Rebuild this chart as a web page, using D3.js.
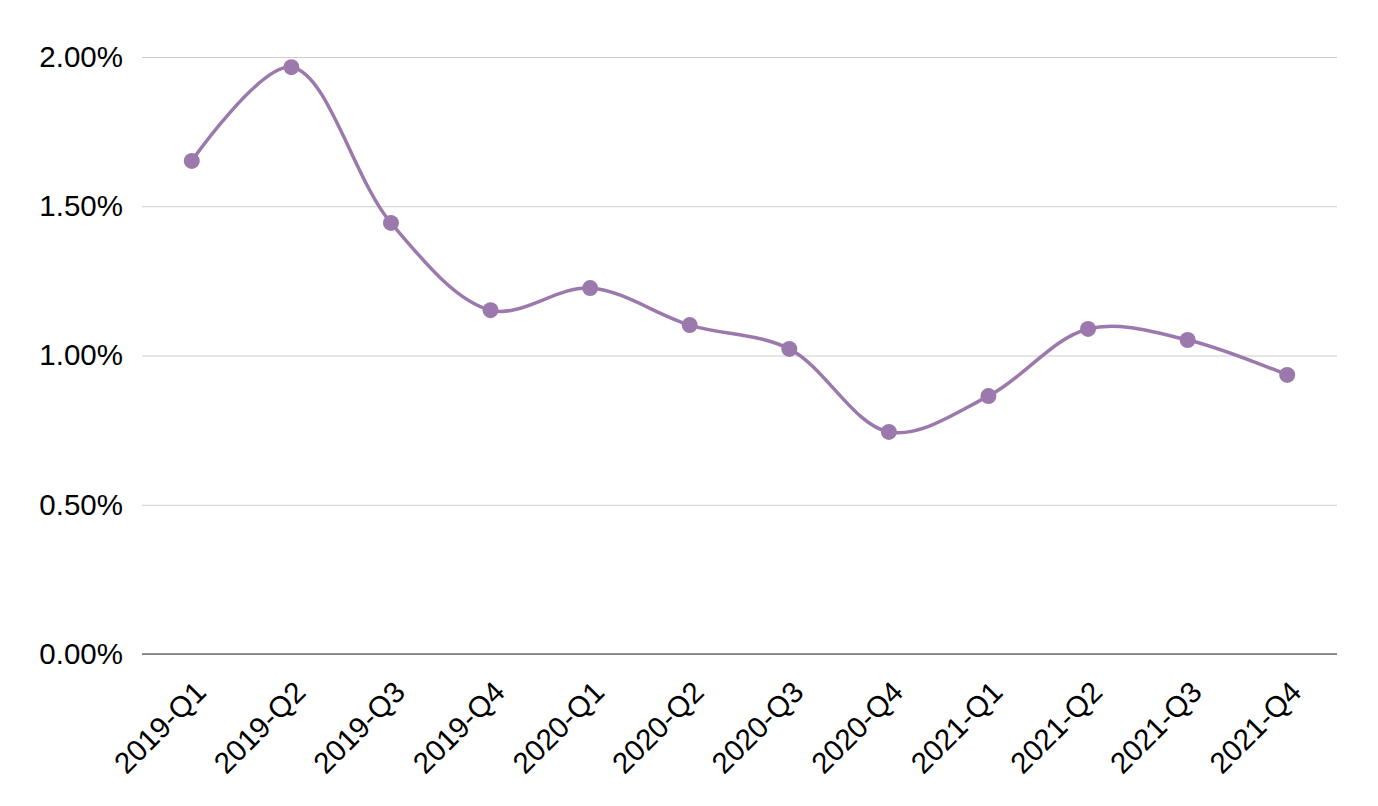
<!DOCTYPE html>
<html>
<head>
<meta charset="utf-8">
<script src="https://cdn.jsdelivr.net/npm/d3@7"></script>
<style>
  body { margin: 0; background: #fff; }
  svg text { font-family: "Liberation Sans", Arial, sans-serif; fill: #000; }
</style>
</head>
<body>
<svg id="chart" width="1378" height="806"></svg>
<script>
// quarters and rate values (percent)
const quarters = ["2019-Q1", "2019-Q2", "2019-Q3", "2019-Q4", "2020-Q1", "2020-Q2",
                  "2020-Q3", "2020-Q4", "2021-Q1", "2021-Q2", "2021-Q3", "2021-Q4"];
const rates = [1.652, 1.966, 1.444, 1.152, 1.226, 1.102, 1.022, 0.744, 0.864, 1.089, 1.052, 0.935];
const yTicks = [0, 0.5, 1.0, 1.5, 2.0];

const width = 1378, height = 806;
const margin = { top: 57, right: 41, bottom: 152, left: 142 };
const svg = d3.select("#chart");
const color = "#9b79ac";

const x = d3.scaleBand()
    .domain(quarters)
    .range([margin.left, width - margin.right]);

const y = d3.scaleLinear()
    .domain([0, 2])
    .range([height - margin.bottom, margin.top]);

// gridlines + y labels
const yAxis = svg.append("g")
    .attr("transform", `translate(${margin.left},0)`)
    .call(d3.axisLeft(y)
        .tickValues(yTicks)
        .tickSize(-(width - margin.left - margin.right))
        .tickPadding(19)
        .tickFormat(d => d.toFixed(2) + "%"));
yAxis.select(".domain").remove();
yAxis.selectAll(".tick line").attr("stroke", "#cccccc").attr("stroke-width", 1);
yAxis.selectAll(".tick text").attr("font-size", 29.5);

// baseline
svg.append("line")
    .attr("x1", margin.left)
    .attr("x2", width - margin.right)
    .attr("y1", y(0))
    .attr("y2", y(0))
    .attr("stroke", "#333")
    .attr("stroke-width", 1);

// x labels, rotated
const xAxis = svg.append("g")
    .attr("transform", `translate(0,${y(0)})`)
    .call(d3.axisBottom(x).tickSize(0).tickPadding(0));
xAxis.select(".domain").remove();
xAxis.selectAll(".tick text")
    .attr("font-size", 29.5)
    .attr("text-anchor", "end")
    .attr("dy", 0)
    .attr("transform", "translate(16,40) rotate(-45)");

// smoothed line
const line = d3.line()
    .x((d, i) => x(quarters[i]) + x.bandwidth() / 2)
    .y(d => y(d))
    .curve(d3.curveCatmullRom.alpha(0.5));

svg.append("path")
    .datum(rates)
    .attr("fill", "none")
    .attr("stroke", color)
    .attr("stroke-width", 3.5)
    .attr("d", line);

svg.append("g")
    .selectAll("circle")
    .data(rates)
    .join("circle")
    .attr("cx", (d, i) => x(quarters[i]) + x.bandwidth() / 2)
    .attr("cy", d => y(d))
    .attr("r", 8)
    .attr("fill", color);
</script>
</body>
</html>
